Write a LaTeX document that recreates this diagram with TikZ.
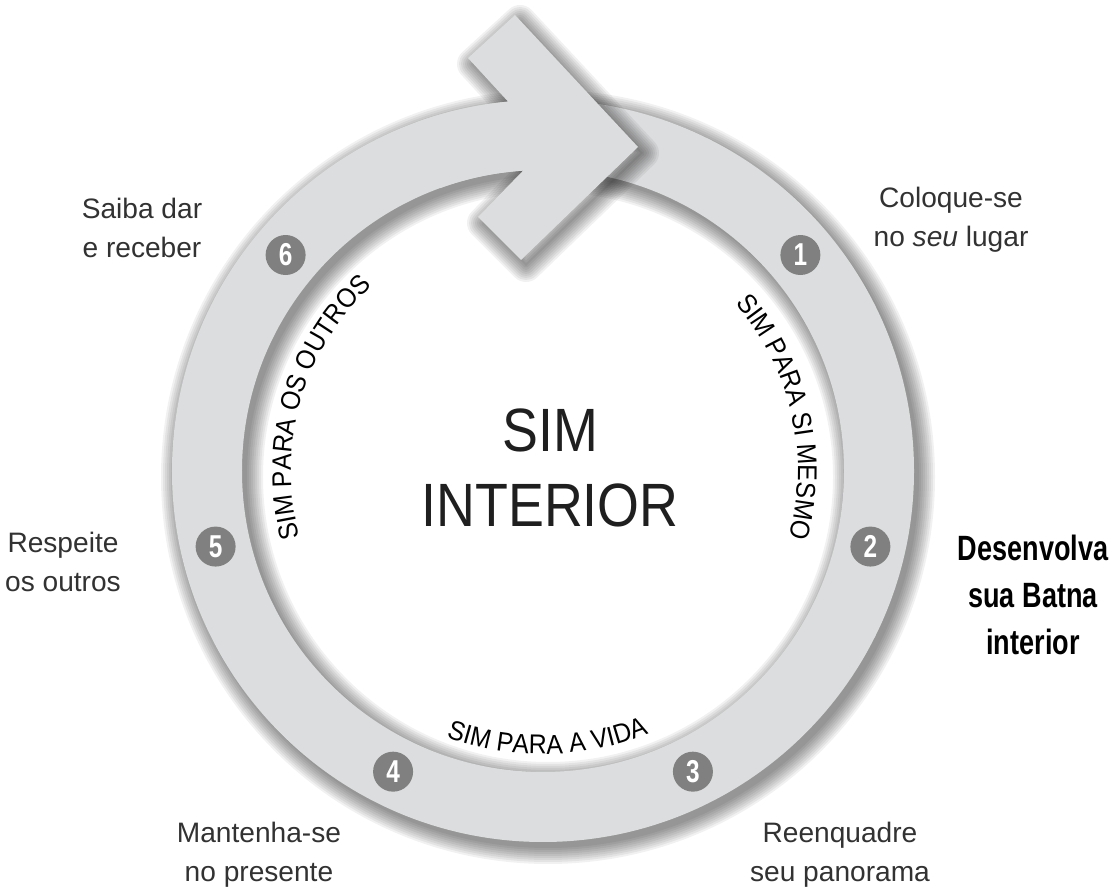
\documentclass[tikz,border=0pt]{standalone}
\usepackage{fontspec}
\setmainfont{Liberation Sans}
\newfontfamily\condfont[FakeStretch=0.88]{Liberation Sans}
\newfontfamily\narrowfont[FakeStretch=0.77]{Liberation Sans}
\newfontfamily\arcfam[FakeStretch=0.92]{Liberation Sans}
\usepackage{tikz}
\usetikzlibrary{decorations.text}
\definecolor{ringgray}{RGB}{220,221,222}
\definecolor{dotgray}{RGB}{128,128,128}
\definecolor{labelgray}{RGB}{50,50,50}
\newcommand{\arcfont}{\arcfam\fontsize{7.7}{8}\selectfont}
% arrow head outline, plain coordinates so that a shift acts on it
\newcommand{\headpath}{(-0.75,4.13) -- (-0.28,4.56) -- (0.95,3.24) -- (-0.22,2.11) -- (-0.65,2.54) -- (93.8:3.01)}
\newcommand{\chevronpath}{\headpath -- (95.4:3.71) -- cycle}
\newcommand{\arrowpath}{\headpath arc[start angle=93.8,end angle=110,radius=3.01] -- (110:3.71) arc[start angle=110,end angle=95.4,radius=3.71] -- cycle}

\begin{document}
\begin{tikzpicture}[
    ringline/.style={ringgray, line width=0.70cm},
    shadowline/.style={black, opacity=0.055, line join=round},
    numdot/.style={circle, fill=dotgray, text=white, minimum size=0.40cm, inner sep=0pt, font=\narrowfont\bfseries\fontsize{9}{9}\selectfont},
    steplabel/.style={align=center, text=labelgray, font=\fontsize{8}{11}\selectfont},
    keylabel/.style={align=center, text=black, font=\narrowfont\bfseries\fontsize{10}{13.4}\selectfont},
    bigword/.style={anchor=base, text=black!88, font=\condfont\fontsize{17.4}{21}\selectfont},
    arctext/.style={decorate, decoration={text along path, text align=center, text={|\arcfont|#1}}}
  ]
    \useasboundingbox (-5.43,-4.19) rectangle (5.75,4.71);
    \fill[white] (-5.43,-4.19) rectangle (5.75,4.71);
    \coordinate (O) at (0,0);

    % soft shadow of the ring
    \foreach \s in {0,...,8}
      \draw[shadowline, line width=(0.70+0.04*\s)*1cm] (0.05,-0.06) circle (3.36);
    % shadow of the head on the white
    \fill[shadowline, shift={(0.05,-0.06)}] \chevronpath;
    \foreach \s in {1,...,8}
      \draw[shadowline, line width=(0.04*\s)*1cm, shift={(0.05,-0.06)}] \chevronpath;

    % the ring
    \draw[ringline] (O) circle (3.36);

    % shadow of the head on the ring
    \begin{scope}
      \clip (40:3.01) -- (40:3.71) arc[start angle=40,end angle=94.5,radius=3.71] -- (94.5:3.01) arc[start angle=94.5,end angle=40,radius=3.01] -- cycle;
      \fill[shadowline, shift={(0.05,-0.06)}] \arrowpath;
      \foreach \s in {1,...,8}
        \draw[shadowline, line width=(0.04*\s)*1cm, shift={(0.05,-0.06)}] \arrowpath;
    \end{scope}

    % arrow head
    \fill[ringgray] \arrowpath;

    % numbered steps
    \node[numdot] (d1) at (40:3.36) {1};
    \node[numdot] (d2) at (-13:3.36) {2};
    \node[numdot] (d3) at (-63.5:3.36) {3};
    \node[numdot] (d4) at (-116.5:3.36) {4};
    \node[numdot] (d5) at (-167:3.36) {5};
    \node[numdot] (d6) at (140:3.36) {6};

    % texts inside the ring
    \path[arctext={SIM PARA SI MESMO}] (48:2.55) arc[start angle=48,end angle=-22,radius=2.55];
    \path[arctext={SIM PARA A VIDA}] (236:2.83) arc[start angle=236,end angle=306,radius=2.83];
    \path[arctext={SIM PARA OS OUTROS}] (199:2.52) arc[start angle=199,end angle=129,radius=2.52];

    \node[bigword] (sim) at (0.07,0.19) {SIM};
    \node[bigword] (interior) at (0.07,-0.56) {INTERIOR};

    % step labels
    \node[steplabel] (lab1) at (4.08,2.51) {Coloque-se\\no \textit{seu} lugar};
    \node[keylabel] (lab2) at (4.90,-1.24) {Desenvolva\\sua Batna\\interior};
    \node[steplabel] (lab3) at (2.97,-3.84) {Reenquadre\\seu panorama};
    \node[steplabel] (lab4) at (-2.84,-3.84) {Mantenha-se\\no presente};
    \node[steplabel] (lab5) at (-4.80,-0.91) {Respeite\\os outros};
    \node[steplabel] (lab6) at (-4.01,2.43) {Saiba dar\\e receber};
\end{tikzpicture}
\end{document}
